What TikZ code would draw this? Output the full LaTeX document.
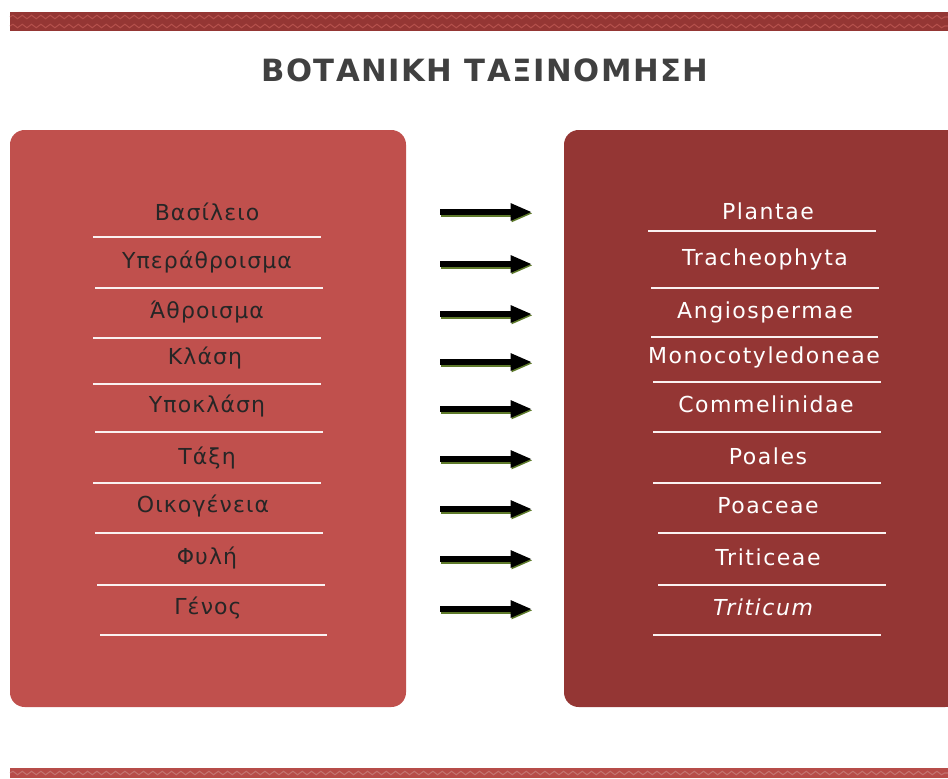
\documentclass[tikz,border=0pt]{standalone}
\usepackage{fontspec}
\setmainfont{DejaVu Sans}
\newfontfamily\headfont[LetterSpace=5]{DejaVu Sans}
\newfontfamily\rankfont[LetterSpace=5]{DejaVu Sans}
\newfontfamily\taxonfont[LetterSpace=7]{DejaVu Sans}
\usetikzlibrary{arrows.meta,decorations.pathmorphing}

\definecolor{boxred}{HTML}{C0504D}
\definecolor{boxdark}{HTML}{943634}
\definecolor{wavered}{HTML}{B4504C}
\definecolor{titlegray}{HTML}{404040}
\definecolor{shadowgreen}{HTML}{5E7A2A}

\tikzset{
    rankname/.style={font=\rankfont\fontsize{16.5}{19}\selectfont, text=black!85},
    taxonname/.style={font=\taxonfont\fontsize{16.5}{19}\selectfont, text=white},
    rowrule/.style={white!92!boxred, line width=1.3pt},
    maparrow/.style={line width=5pt, -{Triangle[length=16pt,width=12pt]}},
    wavy/.style={wavered, line width=0.8pt, decorate,
        decoration={snake, amplitude=1.3pt, segment length=7pt}},
}

\begin{document}
\begin{tikzpicture}[x=0.75pt, y=-0.75pt]
    \useasboundingbox (0,0) rectangle (948,778);

    % bands
    \fill[boxdark] (10,12) rectangle (948,31);
    \draw[wavy] (10,17) -- (948,17);
    \draw[wavy] (10,26) -- (948,26);
    \fill[boxred!95!black] (10,768) rectangle (948,778);
    \draw[wavy, wavered!80!white] (10,773) -- (948,773);

    % title
    \node[font=\headfont\bfseries\fontsize{23}{27}\selectfont, text=titlegray] (title) at (485,70) {ΒΟΤΑΝΙΚΗ ΤΑΞΙΝΟΜΗΣΗ};

    % left box: ranks
    \fill[boxred, rounded corners=11pt] (10,130) rectangle (406,707);
    \node[rankname] (r1) at (207,212) {Βασίλειο};
    \node[rankname] (r2) at (207,262) {Υπεράθροισμα};
    \node[rankname] (r3) at (207,312) {Άθροισμα};
    \node[rankname] (r4) at (205,358) {Κλάση};
    \node[rankname] (r5) at (207,406) {Υποκλάση};
    \node[rankname] (r6) at (207,458) {Τάξη};
    \node[rankname] (r7) at (203,506) {Οικογένεια};
    \node[rankname] (r8) at (207,558) {Φυλή};
    \node[rankname] (r9) at (208,608) {Γένος};
    \draw[rowrule] (93,237) -- (321,237);
    \draw[rowrule] (95,288) -- (323,288);
    \draw[rowrule] (93,338) -- (321,338);
    \draw[rowrule] (93,384) -- (321,384);
    \draw[rowrule] (95,432) -- (323,432);
    \draw[rowrule] (93,483) -- (321,483);
    \draw[rowrule] (95,533) -- (323,533);
    \draw[rowrule] (97,585) -- (325,585);
    \draw[rowrule] (100,635) -- (327,635);

    % right box: taxa
    \fill[boxdark, rounded corners=11pt] (564,130) rectangle (960,707);
    \node[taxonname] (t1) at (768,211) {Plantae};
    \node[taxonname] (t2) at (765,259) {Tracheophyta};
    \node[taxonname] (t3) at (765,312) {Angiospermae};
    \node[taxonname] (t4) at (764,357) {Monocotyledoneae};
    \node[taxonname] (t5) at (766,404) {Commelinidae};
    \node[taxonname] (t6) at (768,456) {Poales};
    \node[taxonname] (t7) at (768,506) {Poaceae};
    \node[taxonname] (t8) at (768,557) {Triticeae};
    \node[taxonname, font=\taxonfont\itshape\fontsize{16.5}{19}\selectfont] (t9) at (763,607) {Triticum};
    \draw[rowrule] (648,231) -- (876,231);
    \draw[rowrule] (651,288) -- (879,288);
    \draw[rowrule] (651,337) -- (878,337);
    \draw[rowrule] (653,382) -- (881,382);
    \draw[rowrule] (653,432) -- (881,432);
    \draw[rowrule] (653,483) -- (881,483);
    \draw[rowrule] (658,533) -- (886,533);
    \draw[rowrule] (658,585) -- (886,585);
    \draw[rowrule] (653,635) -- (881,635);

    % arrows
    \coordinate (s1) at (440,212); \coordinate (e1) at (532,212);
    \coordinate (s2) at (440,264); \coordinate (e2) at (532,264);
    \coordinate (s3) at (440,314); \coordinate (e3) at (532,314);
    \coordinate (s4) at (440,362); \coordinate (e4) at (532,362);
    \coordinate (s5) at (440,409); \coordinate (e5) at (532,409);
    \coordinate (s6) at (440,459); \coordinate (e6) at (532,459);
    \coordinate (s7) at (440,509); \coordinate (e7) at (532,509);
    \coordinate (s8) at (440,559); \coordinate (e8) at (532,559);
    \coordinate (s9) at (440,609); \coordinate (e9) at (532,609);
    \foreach \i in {1,...,9} {
        \draw[maparrow, shadowgreen, transform canvas={shift={(0.8pt,-1pt)}}] (s\i) -- (e\i);
        \draw[maparrow, black] (s\i) -- (e\i);
    }
\end{tikzpicture}
\end{document}
